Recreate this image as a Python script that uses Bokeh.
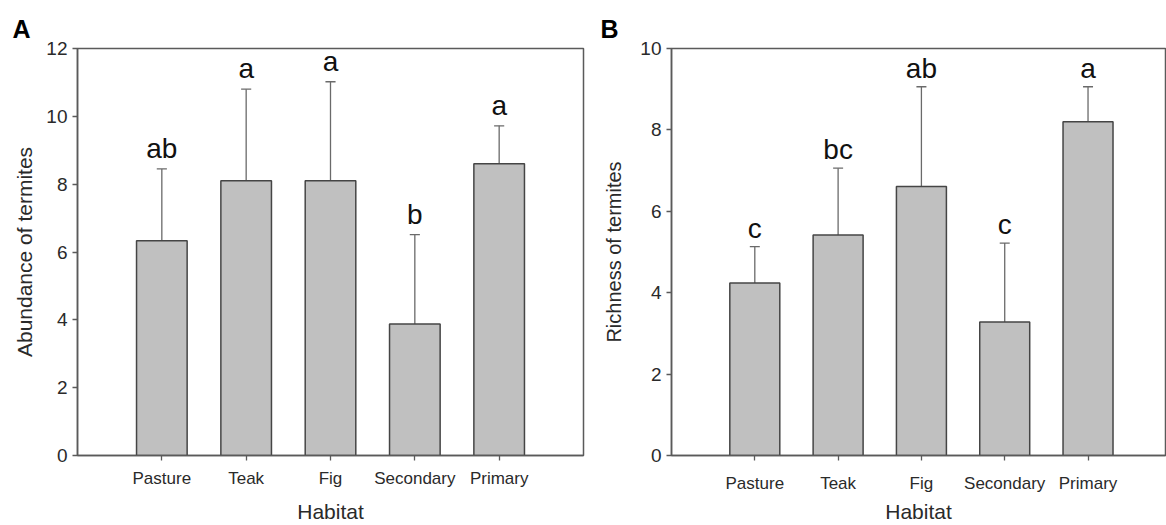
from bokeh.plotting import figure
from bokeh.layouts import row
from bokeh.models import ColumnDataSource, FixedTicker, Range1d
from bokeh.core.properties import value
from bokeh.embed import file_html
from bokeh.resources import INLINE

habitats = ["Pasture", "Teak", "Fig", "Secondary", "Primary"]

abundance_mean = [6.33, 8.10, 8.10, 3.88, 8.60]
abundance_se = [2.12, 2.70, 2.92, 2.63, 1.12]
abundance_letters = ["ab", "a", "a", "b", "a"]

richness_mean = [4.24, 5.42, 6.61, 3.28, 8.20]
richness_se = [0.89, 1.64, 2.45, 1.94, 0.86]
richness_letters = ["c", "bc", "ab", "c", "a"]

abundance_ticks = [0, 2, 4, 6, 8, 10, 12]
richness_ticks = [0, 2, 4, 6, 8, 10]

FONT = "Liberation Sans"


def panel(means, ses, letters, yticks, ylabel, tag, width, height,
          mb_left, mb_right, mb_top, mb_bottom, x_end, cat_standoff,
          xlab_standoff, ylab_standoff, ylab_size, tag_offset, letter_off):
    xs = list(range(1, len(habitats) + 1))
    upper = [m + s for m, s in zip(means, ses)]
    half_cap = 0.06
    src = ColumnDataSource(dict(
        x=xs, top=means, upper=upper, letters=letters,
        cl=[x - half_cap for x in xs], cr=[x + half_cap for x in xs],
    ))
    p = figure(width=width, height=height, output_backend="svg",
               toolbar_location=None, tools="",
               x_range=Range1d(0, x_end),
               y_range=Range1d(yticks[0], yticks[-1]),
               min_border_left=mb_left, min_border_right=mb_right,
               min_border_top=mb_top, min_border_bottom=mb_bottom)
    p.background_fill_color = "white"
    p.border_fill_color = "white"
    p.grid.visible = False
    p.outline_line_color = "#5a5a5a"
    p.outline_line_width = 1.5

    p.title.text = tag
    p.title.align = "left"
    p.title.offset = tag_offset
    p.title.text_font = FONT
    p.title.text_font_size = "25px"
    p.title.text_font_style = "bold"
    p.title.text_color = "#000000"
    p.title.standoff = 11

    # error bars (upper only)
    p.segment(x0="x", y0="top", x1="x", y1="upper", source=src,
              line_color="#6a6a6a", line_width=1.3)
    p.segment(x0="cl", y0="upper", x1="cr", y1="upper", source=src,
              line_color="#6a6a6a", line_width=1.3)
    p.vbar(x="x", top="top", bottom=0, width=0.6, source=src,
           fill_color="#c0c0c0", line_color="#454545", line_width=1.5)
    p.text(x="x", y="upper", text="letters", source=src,
           text_font=value(FONT), text_font_size="28px",
           text_align="center", text_baseline="bottom",
           y_offset=letter_off, text_color="#111111")

    # y axis
    yax = p.yaxis[0]
    yax.ticker = FixedTicker(ticks=yticks)
    yax.minor_tick_line_color = None
    yax.major_tick_in = 0
    yax.major_tick_out = 5
    yax.axis_line_color = "#5a5a5a"
    yax.axis_line_width = 1.5
    yax.major_tick_line_color = "#5a5a5a"
    yax.major_tick_line_width = 1.3
    yax.major_label_text_font = FONT
    yax.major_label_text_font_size = "19px"
    yax.major_label_text_color = "#2a2a2a"
    yax.major_label_standoff = 5
    yax.axis_label = ylabel
    yax.axis_label_text_font = FONT
    yax.axis_label_text_font_size = ylab_size
    yax.axis_label_text_font_style = "normal"
    yax.axis_label_text_color = "#2a2a2a"
    yax.axis_label_standoff = ylab_standoff

    # x axis
    xax = p.xaxis[0]
    xax.ticker = FixedTicker(ticks=xs)
    xax.major_label_overrides = {x: h for x, h in zip(xs, habitats)}
    xax.minor_tick_line_color = None
    xax.major_tick_in = 0
    xax.major_tick_out = 5
    xax.axis_line_color = "#5a5a5a"
    xax.axis_line_width = 1.5
    xax.major_tick_line_color = "#5a5a5a"
    xax.major_tick_line_width = 1.3
    xax.major_label_text_font = FONT
    xax.major_label_text_font_size = "17px"
    xax.major_label_text_color = "#2a2a2a"
    xax.major_label_standoff = cat_standoff
    xax.axis_label = "Habitat"
    xax.axis_label_text_font = FONT
    xax.axis_label_text_font_size = "21px"
    xax.axis_label_text_font_style = "normal"
    xax.axis_label_text_color = "#2a2a2a"
    xax.axis_label_standoff = xlab_standoff

    return p


pa = panel(abundance_mean, abundance_se, abundance_letters, abundance_ticks,
           "Abundance of termites", "A", 600, 525, 77, 17, 48, 70, 6.0,
           8, 9, 7, "21px", -65, -5)
pb = panel(richness_mean, richness_se, richness_letters, richness_ticks,
           "Richness of termites", "B", 566, 525, 67, 1, 48, 70, 5.93,
           13, 4, 12, "20px", -71, -3)

layout = row(pa, pb, spacing=0)
open("out.html", "w").write(file_html(layout, INLINE))
